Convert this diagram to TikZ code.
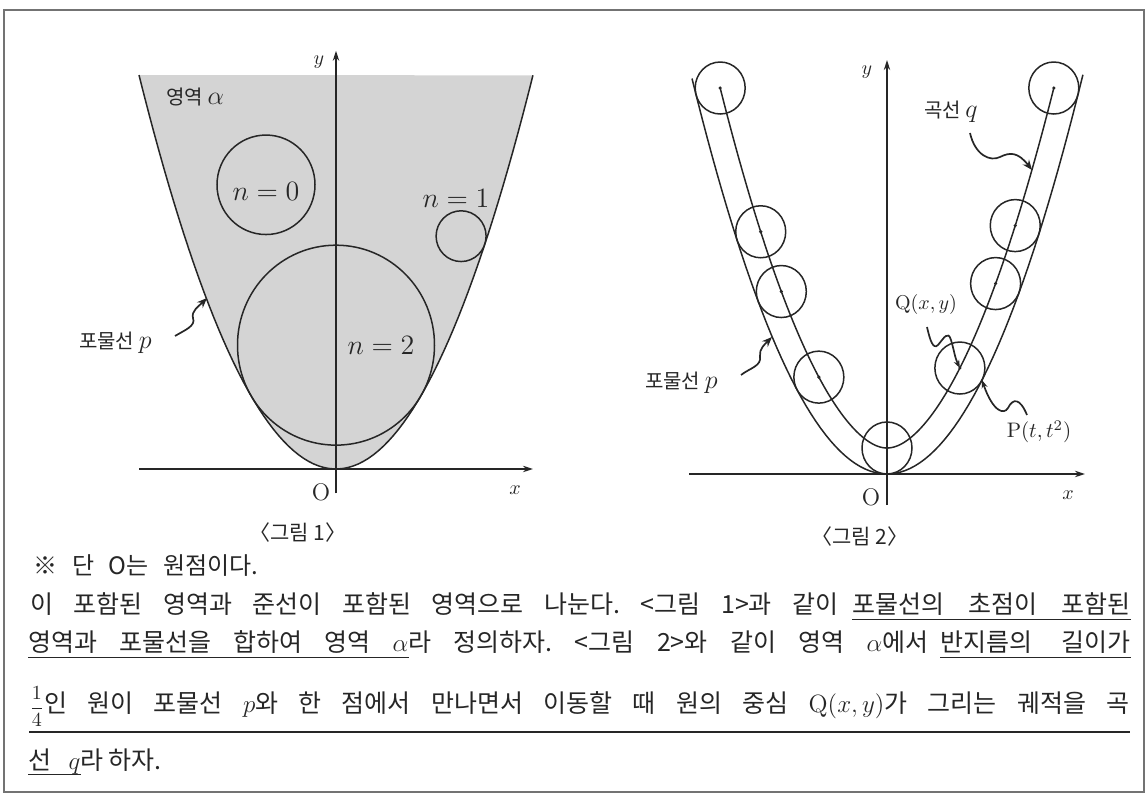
\documentclass[tikz,border=0pt]{standalone}
\usepackage{fix-cm}
\usepackage[no-math]{fontspec}
\setmainfont{Noto Sans CJK KR}
\usetikzlibrary{arrows.meta}
\newlength\px \setlength\px{0.5pt}
\frenchspacing
\begin{document}
\begin{tikzpicture}[x=0.5pt,y=-0.5pt,
  curve/.style={draw=black!85, line width=0.75pt},
  axis/.style={draw=black!85, line width=0.75pt, -{Stealth[length=5pt,width=3.2pt]}},
  wavy/.style={draw=black!85, line width=0.85pt, -{Stealth[length=5pt,width=4pt]}},
  lab/.style={inner sep=0, text=black!85},
  klab/.style={lab, font=\fontsize{10pt}{11pt}\selectfont},
  mlab/.style={lab, font=\fontsize{10pt}{12pt}\selectfont},
  nlab/.style={lab, font=\fontsize{14pt}{16pt}\selectfont},
  figcap/.style={lab, font=\fontsize{10.5pt}{12pt}\selectfont},
  body/.style={inner sep=0, anchor=base west, text=black!85, font=\fontsize{12.5pt}{14pt}\selectfont},
  ul/.style={draw=black!85, line width=0.5pt},
  region/.style={fill=black!17}]
\useasboundingbox (0,0) rectangle (1148,795);
\draw[draw=black!55, line width=1pt] (4,10) rectangle (1144,792);

% ---------- Figure 1 ----------
\begin{scope}[shift={(168pt,-234.5pt)}, x=50pt, y=50.75pt]
  \fill[region] plot[domain=-1.97:1.97, samples=80] (\x,{(\x)*(\x)}) -- cycle;
  \draw[curve] plot[domain=-1.97:1.97, samples=80] (\x,{(\x)*(\x)});
  \draw[curve] (-0.70,2.80) circle[radius=0.49];
  \draw[curve] ({1.488-0.744/sqrt(1+4*1.488*1.488)},{1.488*1.488+0.25/sqrt(1+4*1.488*1.488)}) circle[radius=0.25];
  \draw[curve] (0,1.22) circle[radius=0.985];
  \draw[axis] (-1.97,0) -- (1.97,0);
  \draw[axis] (0,-0.24) -- (0,4.12);
\end{scope}
\node[mlab] (y1) at (319,62) {$y$};
\node[lab, font=\fontsize{12pt}{14pt}\selectfont] (o1) at (321,492) {$\mathrm{O}$};
\node[mlab] (x1) at (515,490) {$x$};
\node[figcap] (cap1) at (298,533) {〈그림 1〉};
\node[klab, anchor=west] (alpha) at (166,97) {영역 \fontsize{13pt}{13pt}\selectfont$\alpha$};
\node[nlab] (n0) at (266,191) {$n=0$};
\node[nlab] (n1) at (456,198) {$n=1$};
\node[nlab] (n2) at (381,345) {$n=2$};
\node[klab, anchor=east] (p1) at (152,343) {포물선 \fontsize{13pt}{13pt}\selectfont$p$};
\coordinate (a1s) at (175,336);
\coordinate (a1e) at (207,298);
\draw[wavy] (a1s) .. controls (185,330) and (196,326) .. (193,318) .. controls (191,311) and (199,306) .. (a1e);

% ---------- Figure 2 ----------
\begin{scope}[shift={(443.5pt,-237pt)}, x=50pt, y=52pt]
  \draw[curve] plot[domain=-1.95:1.96, samples=80] (\x,{(\x)*(\x)});
  \draw[curve] plot[variable=\t, domain=-1.91:1.91, samples=120]
     ({(\t)-0.5*(\t)/sqrt(1+4*(\t)*(\t))},{(\t)*(\t)+0.25/sqrt(1+4*(\t)*(\t))});
  \foreach \t in {-1.91,-1.5,-1.29,-0.9,0,0.95,1.32,1.52,1.91} {
    \coordinate (c) at ({(\t)-0.5*(\t)/sqrt(1+4*(\t)*(\t))},{(\t)*(\t)+0.25/sqrt(1+4*(\t)*(\t))});
    \draw[curve] (c) circle[radius=0.25];
    \fill[black!85] (c) circle[radius=0.9pt];
  }
  \coordinate (Qc) at ({0.95-0.475/sqrt(1+4*0.95*0.95)},{0.9025+0.25/sqrt(1+4*0.95*0.95)});
  \coordinate (Pt) at (0.95,0.9025);
  \draw[axis] (-1.98,0) -- (1.98,0);
  \draw[axis] (0,-0.3) -- (0,3.98);
\end{scope}
\node[mlab] (y2) at (867,72) {$y$};
\node[lab, font=\fontsize{12pt}{14pt}\selectfont] (o2) at (871,497) {$\mathrm{O}$};
\node[mlab] (x2) at (1068,495) {$x$};
\node[figcap] (cap2) at (860,537) {〈그림 2〉};
\node[klab, anchor=east] (qlab) at (978,112) {곡선 \fontsize{13pt}{13pt}\selectfont$q$};
\node[mlab] (Qlab) at (926,305) {$\mathrm{Q}(x,y)$};
\node[lab, font=\fontsize{10.5pt}{12pt}\selectfont] (Plab) at (1039,432) {$\mathrm{P}(t,t^2)$};
\node[klab, anchor=east] (p2) at (718,383) {포물선 \fontsize{13pt}{13pt}\selectfont$p$};
\coordinate (a2s) at (741,375);
\coordinate (a2e) at (772,337);
\draw[wavy] (a2s) .. controls (750,368) and (762,366) .. (760,356) .. controls (759,349) and (765,344) .. (a2e);
\coordinate (a3s) at (970,133);
\coordinate (a3e) at (1032,170);
\draw[wavy] (a3s) .. controls (975,155) and (990,162) .. (1000,157) .. controls (1010,152) and (1018,152) .. (a3e);
\coordinate (a4s) at (927,327);
\draw[wavy, -{Stealth[length=4pt,width=3pt]}] (a4s) .. controls (930,340) and (933,350) .. (938,345) .. controls (944,338) and (948,330) .. (951,340) .. controls (954,350) and (955,358) .. (Qc);
\coordinate (a5s) at (1027,415);
\draw[wavy, -{Stealth[length=4pt,width=3pt]}] (a5s) .. controls (1020,398) and (1013,398) .. (1008,408) .. controls (1004,415) and (993,412) .. (Pt);

% ---------- Text ----------
\node[body, font=\fontsize{12pt}{14pt}\selectfont] (t0) at (33,575) {\makebox[225\px][s]{※ 단 O는 원점이다.}};
\node[body] (t1a) at (30,614) {\makebox[808\px][s]{이 포함된 영역과 준선이 포함된 영역으로 나눈다. <그림 1>과 같이}};
\node[body] (t1b) at (852,614) {\makebox[278\px][s]{포물선의 초점이 포함된}};
\node[body] (t2a) at (28,652) {\makebox[380\px][s]{영역과 포물선을 합하여 영역 $\alpha$}};
\node[body] (t2b) at (408,652) {\makebox[520\px][s]{라 정의하자. <그림 2>와 같이 영역 $\alpha$에서}};
\node[body] (t2c) at (940,652) {\makebox[190\px][s]{반지름의 길이가}};
\node[body] (t3) at (29,713) {\makebox[1100\px][s]{{\fontsize{10pt}{11pt}\selectfont$\displaystyle\frac{1}{4}$}인 원이 포물선 $p$와 한 점에서 만나면서 이동할 때 원의 중심 $\mathrm{Q}(x,y)$가 그리는 궤적을 곡}};
\node[body] (t4a) at (28,770) {\makebox[52\px][s]{선 $q$}};
\node[body] (t4b) at (80,770) {라 하자.};
\draw[ul] ([yshift=-3pt]t1b.base west) -- ([yshift=-3pt]t1b.base east);
\draw[ul] ([yshift=-3pt]t2a.base west) -- ([yshift=-3pt]t2a.base east);
\draw[ul] ([yshift=-3pt]t2c.base west) -- ([yshift=-3pt]t2c.base east);
\draw[ul, line width=0.9pt] ([yshift=-9.5pt]t3.base west) -- ([yshift=-9.5pt]t3.base east);
\draw[ul] ([yshift=-2.5pt]t4a.base west) -- ([yshift=-2.5pt]t4a.base east);
\end{tikzpicture}
\end{document}
